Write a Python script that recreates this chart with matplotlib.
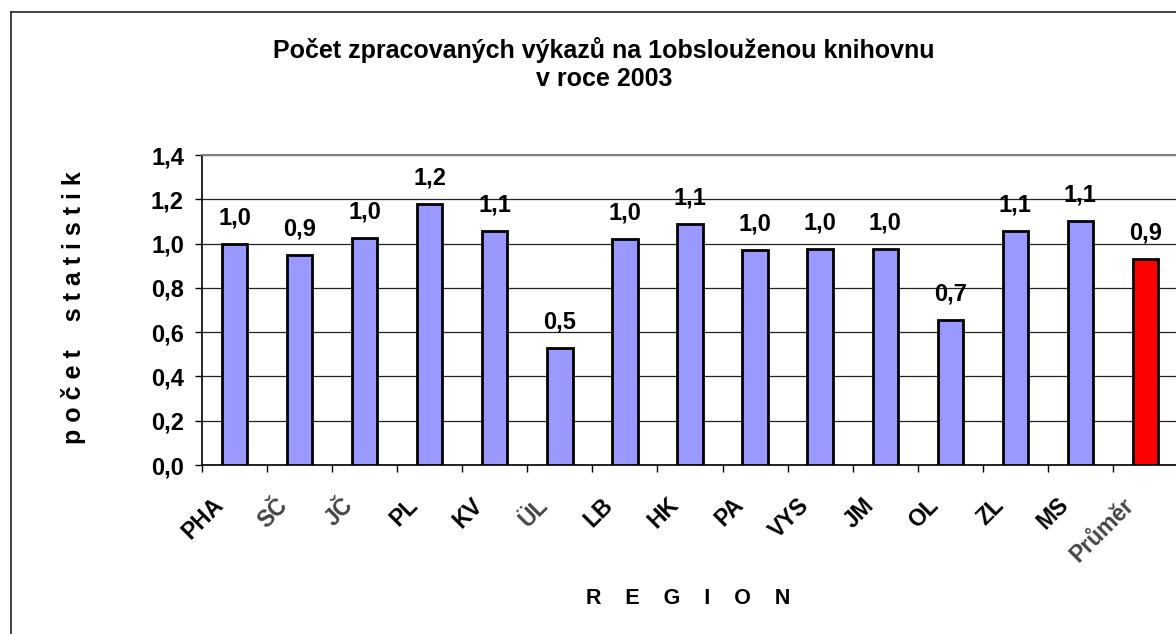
"""Bar chart: number of processed reports per served library, 2003."""
import matplotlib
matplotlib.use("Agg")
import matplotlib.pyplot as plt
from matplotlib.lines import Line2D
from matplotlib.transforms import ScaledTranslation

regions = ['PHA', 'SČ', 'JČ', 'PL', 'KV', 'ÜL', 'LB', 'HK', 'PA', 'VYS',
           'JM', 'OL', 'ZL', 'MS', 'Průměr']
values = [1.00, 0.947, 1.025, 1.18, 1.055, 0.529, 1.019, 1.09, 0.971, 0.977,
          0.977, 0.654, 1.055, 1.10, 0.932]
gray_labels = ['SČ', 'JČ', 'ÜL', 'Průměr']

plt.rcParams['font.family'] = ['Liberation Sans', 'DejaVu Sans']
plt.rcParams['font.weight'] = 'bold'

fig = plt.figure(figsize=(11.76, 6.34), dpi=100)
ax = fig.add_axes([202 / 1176, 1 - 465 / 634, (1178 - 202) / 1176, 310 / 634])

x = list(range(len(regions)))
colors = ['#9999FF'] * (len(regions) - 1) + ['#FF0000']
ax.bar(x, values, width=0.39, color=colors, edgecolor='black', linewidth=2,
       zorder=3)

for i, v in enumerate(values):
    ax.annotate(('%.1f' % v).replace('.', ','), (i, v), xytext=(0, 14),
                textcoords='offset points', ha='center', va='baseline',
                fontsize=17, fontweight='bold')

ax.set_xlim(-0.5, len(regions) - 0.5)
ax.set_ylim(0, 1.4)
yt = [0, 0.2, 0.4, 0.6, 0.8, 1.0, 1.2, 1.4]
ax.set_yticks(yt)
ax.set_yticklabels([('%.1f' % t).replace('.', ',') for t in yt],
                   fontsize=17, fontweight='bold')
ax.yaxis.grid(True, color='#222222', linewidth=0.9, zorder=0)
ax.tick_params(axis='y', direction='out', length=5, width=1, pad=8)

ax.set_xticks(x)
ax.set_xticklabels(regions, rotation=45, ha='right', va='center',
                   rotation_mode='anchor', fontsize=16.5, fontweight='bold')
ax.set_xticks([i + 0.5 for i in x[:-1]] + [-0.5], minor=True)
ax.tick_params(axis='x', which='major', length=0, pad=22)
ax.tick_params(axis='x', which='minor', direction='out', length=5, width=1)
shift = ScaledTranslation(-15 / 100, -6 / 100, fig.dpi_scale_trans)
for lbl in ax.get_xticklabels():
    lbl.set_transform(lbl.get_transform() + shift)
    if lbl.get_text() in gray_labels:
        lbl.set_color('#444444')

for s in ['left', 'bottom']:
    ax.spines[s].set_color('black')
    ax.spines[s].set_linewidth(1.2)
ax.spines['top'].set_color('#808080')
ax.spines['top'].set_linewidth(1.5)
ax.spines['right'].set_visible(False)

fig.text(688 / 1176, 1 - 598 / 634, 'R    E    G    I    O    N',
         ha='center', va='center', fontsize=15.5, fontweight='bold')
fig.text(74 / 1176, 1 - 308 / 634, 'p o č e t    s t a t i s t i k',
         rotation=90, ha='center', va='center', fontsize=18,
         fontweight='bold')

fig.text(604 / 1176, 1 - 50 / 634,
         'Počet zpracovaných výkazů na 1obslouženou knihovnu',
         ha='center', va='center', fontsize=18, fontweight='bold')
fig.text(604 / 1176, 1 - 79 / 634, 'v roce 2003',
         ha='center', va='center', fontsize=18, fontweight='bold')

# outer chart border (only left and top are inside the image)
fig.add_artist(Line2D([10.5 / 1176, 10.5 / 1176], [0, 1 - 12 / 634],
                      transform=fig.transFigure, color='#222222', linewidth=1.2))
fig.add_artist(Line2D([10.5 / 1176, 1], [1 - 12 / 634, 1 - 12 / 634],
                      transform=fig.transFigure, color='#222222', linewidth=1.2))

plt.savefig('out.png', dpi=100, facecolor='w')
